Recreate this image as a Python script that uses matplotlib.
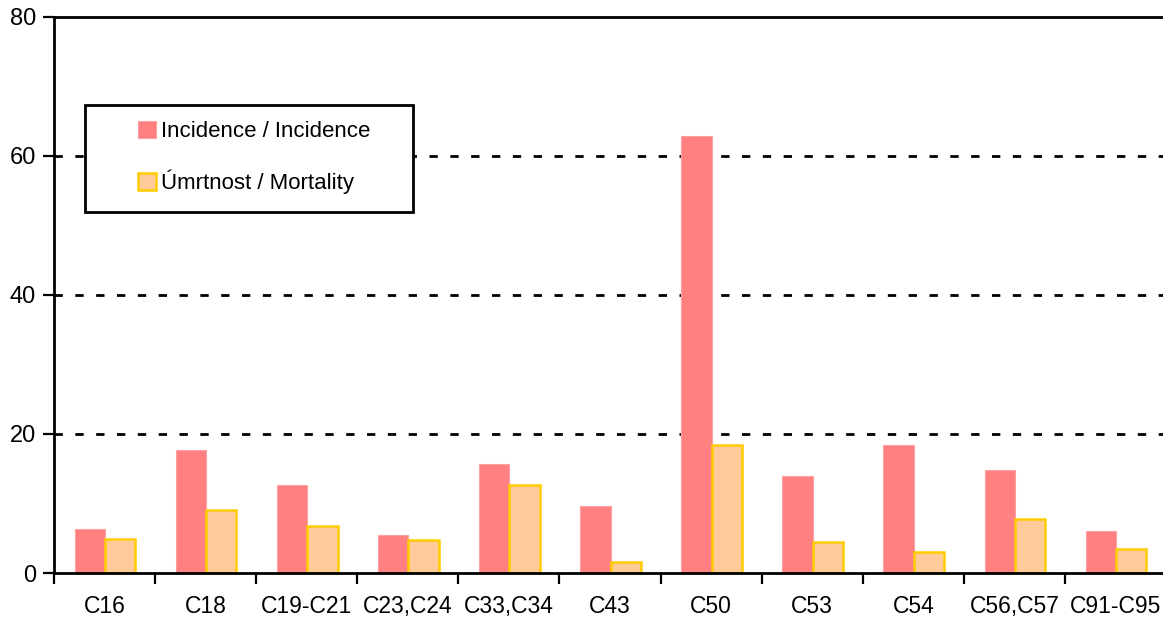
import numpy as np
import matplotlib
matplotlib.use("Agg")
import matplotlib.pyplot as plt
from matplotlib.patches import Rectangle

plt.rcParams['font.family'] = ['Liberation Sans', 'DejaVu Sans']

# data
categories = ['C16', 'C18', 'C19-C21', 'C23,C24', 'C33,C34', 'C43',
              'C50', 'C53', 'C54', 'C56,C57', 'C91-C95']
incidence = [6.3, 17.7, 12.6, 5.5, 15.7, 9.6, 62.9, 14.0, 18.4, 14.8, 6.0]
mortality = [4.9, 9.1, 6.7, 4.7, 12.7, 1.6, 18.4, 4.4, 3.0, 7.8, 3.5]
labels = ['Incidence / Incidence', 'Úmrtnost / Mortality']

inc_col = '#FF8080'
mort_col = '#FFCC99'
mort_edge = '#FFCC00'

fig = plt.figure(figsize=(11.63, 6.24), dpi=100)
ax = fig.add_axes([54/1163, 1-573/624, (1166-54)/1163, (573-17)/624])

x = np.arange(len(categories))
bw = 0.3
b1 = ax.bar(x - 0.145, incidence, bw, color=inc_col, edgecolor='#FFA0A0',
            linewidth=0.8, zorder=2, label=labels[0])
b2 = ax.bar(x + 0.155, mortality, bw, color=mort_col, edgecolor=mort_edge,
            linewidth=1.8, zorder=2, label=labels[1])

ax.set_xlim(-0.5, len(categories) - 0.5)
ax.set_ylim(0, 80)
ax.set_yticks([0, 20, 40, 60, 80])
for yv in [20, 40, 60]:
    ax.axhline(yv, color='black', lw=2, ls=(0, (3, 4.5)), zorder=1)

ax.set_xticks(x)
ax.set_xticklabels(categories, fontsize=16.5)
ax.set_xticks(np.arange(len(categories) + 1) - 0.5, minor=True)
ax.tick_params(axis='x', which='major', length=0, pad=16)
ax.tick_params(axis='x', which='minor', length=8, width=1.6, direction='out')
ax.tick_params(axis='y', length=8, width=1.6, labelsize=17, pad=5)

for s in ['left', 'bottom', 'top']:
    ax.spines[s].set_linewidth(2)
    ax.spines[s].set_color('black')
ax.spines['right'].set_visible(False)

# legend box
box = Rectangle((85/1163, 1-212/624), (413-85)/1163, (212-105)/624,
                transform=fig.transFigure, facecolor='white',
                edgecolor='black', linewidth=2, zorder=3)
ax.add_patch(box)
leg = ax.legend([b1, b2], labels, loc='upper left',
                bbox_to_anchor=(129/1163, 1-112/624),
                bbox_transform=fig.transFigure, frameon=False,
                fontsize=16, handlelength=0.8, handleheight=0.8,
                handletextpad=0.25, labelspacing=1.25, borderaxespad=0)
leg.set_zorder(5)

fig.savefig('out.png', dpi=100)
